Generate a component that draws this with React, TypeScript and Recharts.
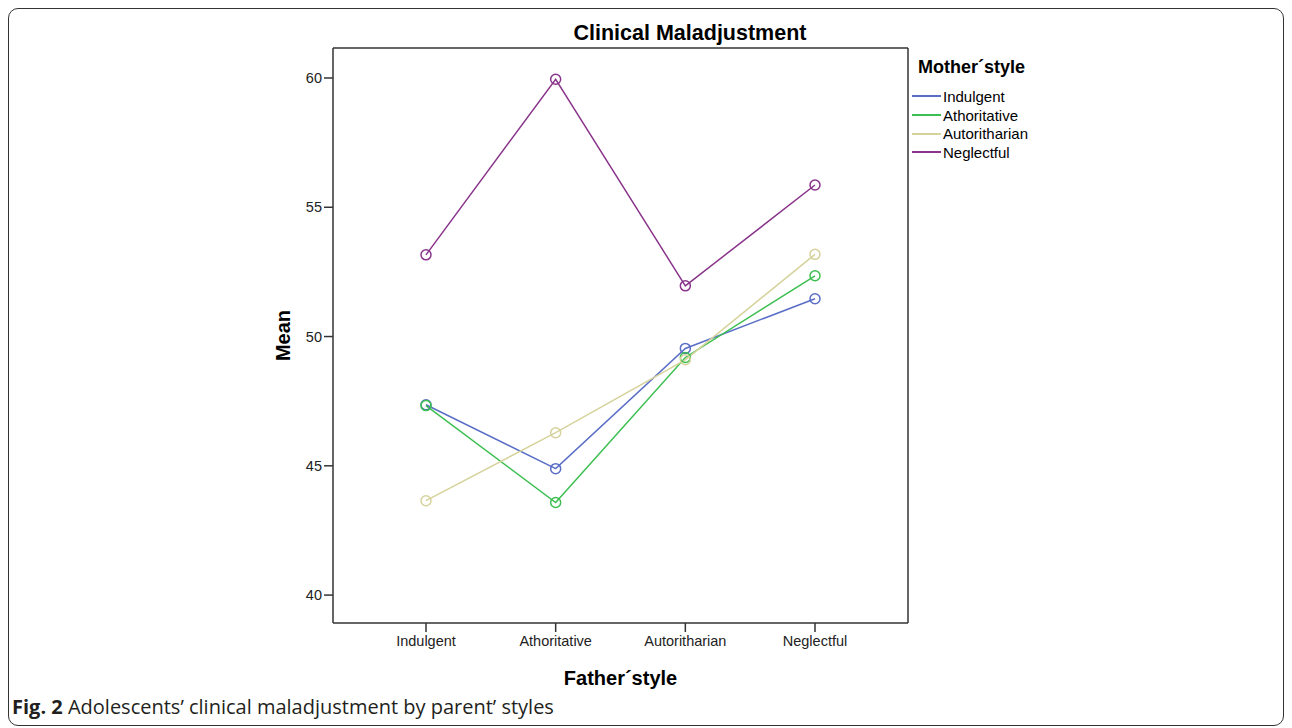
import React from 'react';
import { LineChart, Line, XAxis, YAxis, Legend } from 'recharts';

const FONT = '"Liberation Sans", Arial, sans-serif';

// father style on the x axis, one series per mother style
const fatherStyles = ['Indulgent', 'Athoritative', 'Autoritharian', 'Neglectful'];
const indulgent = [47.36, 44.89, 49.54, 51.46];
const athoritative = [47.33, 43.58, 49.19, 52.35];
const autoritharian = [43.65, 46.28, 49.1, 53.18];
const neglectful = [53.16, 59.95, 51.96, 55.86];
const yTicks = [40, 45, 50, 55, 60];

const series = [
  { key: 'Indulgent', color: '#5a6ec6', values: indulgent },
  { key: 'Athoritative', color: '#3cbf50', values: athoritative },
  { key: 'Autoritharian', color: '#d6d29c', values: autoritharian },
  { key: 'Neglectful', color: '#8a358b', values: neglectful },
];

const data = fatherStyles.map((f, i) => {
  const row: any = { father: f };
  series.forEach(s => {
    row[s.key] = s.values[i];
  });
  return row;
});

// legend keeps the SPSS order (not the alphabetical payload order)
const MotherLegend = () => (
  <div style={{ fontFamily: FONT, color: '#000' }}>
    <div style={{ fontWeight: 700, fontSize: 18, lineHeight: '22px', marginBottom: 9, marginLeft: 6 }}>Mother´style</div>
    {series.map(s => (
      <div key={s.key} style={{ display: 'flex', alignItems: 'center', height: 18.7, fontSize: 15 }}>
        <span style={{ width: 29, height: 0, borderTop: `2px solid ${s.color}`, marginRight: 2 }} />
        {s.key}
      </div>
    ))}
  </div>
);

const App: React.FC = () => {
  return (
    <div style={{ position: 'relative', width: 1292, height: 728, background: '#fff' }}>
      <style>{'body{margin:0;overflow:hidden}'}</style>
      <div
        style={{
          position: 'absolute', left: 8, top: 8, width: 1276, height: 718,
          border: '1.5px solid #333', borderRadius: 10, boxSizing: 'border-box',
        }}
      />
      <div
        style={{
          position: 'absolute', left: 490, top: 21, width: 400, textAlign: 'center',
          fontFamily: FONT, fontWeight: 700, fontSize: 21.5, lineHeight: '24px', color: '#000',
        }}
      >
        Clinical Maladjustment
      </div>
      <div style={{ position: 'absolute', left: 0, top: 0 }}>
        <LineChart width={1292} height={728} data={data} margin={{ top: 47, right: 383, bottom: 45, left: 253 }}>
          <XAxis
            dataKey="father"
            type="category"
            padding={{ left: 93, right: 93 }}
            stroke="#333"
            strokeWidth={1.5}
            tickSize={9}
            tickMargin={4}
            tick={{ fontSize: 14.5, fill: '#222', fontFamily: FONT }}
            height={60}
            label={{
              content: ({ viewBox }: any) => (
                <text
                  x={viewBox.x + viewBox.width / 2}
                  y={viewBox.y + 62}
                  textAnchor="middle"
                  fontFamily={FONT}
                  fontWeight={700}
                  fontSize={20}
                  fill="#000"
                >
                  Father´style
                </text>
              ),
            }}
          />
          <XAxis xAxisId="top" dataKey="father" orientation="top" height={1} tick={false} tickLine={false} stroke="#333" strokeWidth={1.5} />
          <YAxis
            domain={[38.92, 61.16]}
            ticks={yTicks}
            allowDataOverflow
            stroke="#333"
            strokeWidth={1.5}
            tickSize={9}
            tickMargin={2}
            width={80}
            tick={{ fontSize: 14.5, fill: '#222', fontFamily: FONT }}
            label={{
              content: ({ viewBox }: any) => {
                const cx = viewBox.x + 30;
                const cy = viewBox.y + viewBox.height / 2;
                return (
                  <text
                    x={cx}
                    y={cy}
                    transform={`rotate(-90 ${cx} ${cy})`}
                    textAnchor="middle"
                    dominantBaseline="central"
                    fontFamily={FONT}
                    fontWeight={700}
                    fontSize={20}
                    fill="#000"
                  >
                    Mean
                  </text>
                );
              },
            }}
          />
          <YAxis yAxisId="right" orientation="right" width={1} tick={false} tickLine={false} stroke="#333" strokeWidth={1.5} />
          <Legend
            layout="vertical"
            align="center"
            verticalAlign="middle"
            content={<MotherLegend />}
            wrapperStyle={{ left: 912, top: 56, width: 200 }}
          />
          {series.map(s => (
            <Line
              key={s.key}
              dataKey={s.key}
              type="linear"
              stroke={s.color}
              strokeWidth={1.5}
              dot={{ r: 5, stroke: s.color, strokeWidth: 1.5, fill: 'none' }}
              activeDot={false}
              isAnimationActive={false}
            />
          ))}
        </LineChart>
      </div>
      <div
        style={{
          position: 'absolute', left: 12, top: 695, fontFamily: '"Open Sans", sans-serif',
          fontSize: 20, lineHeight: '24px', color: '#231f20', whiteSpace: 'nowrap',
        }}
      >
        <b>Fig. 2</b> Adolescents’ clinical maladjustment by parent’ styles
      </div>
    </div>
  );
};

export default App;
